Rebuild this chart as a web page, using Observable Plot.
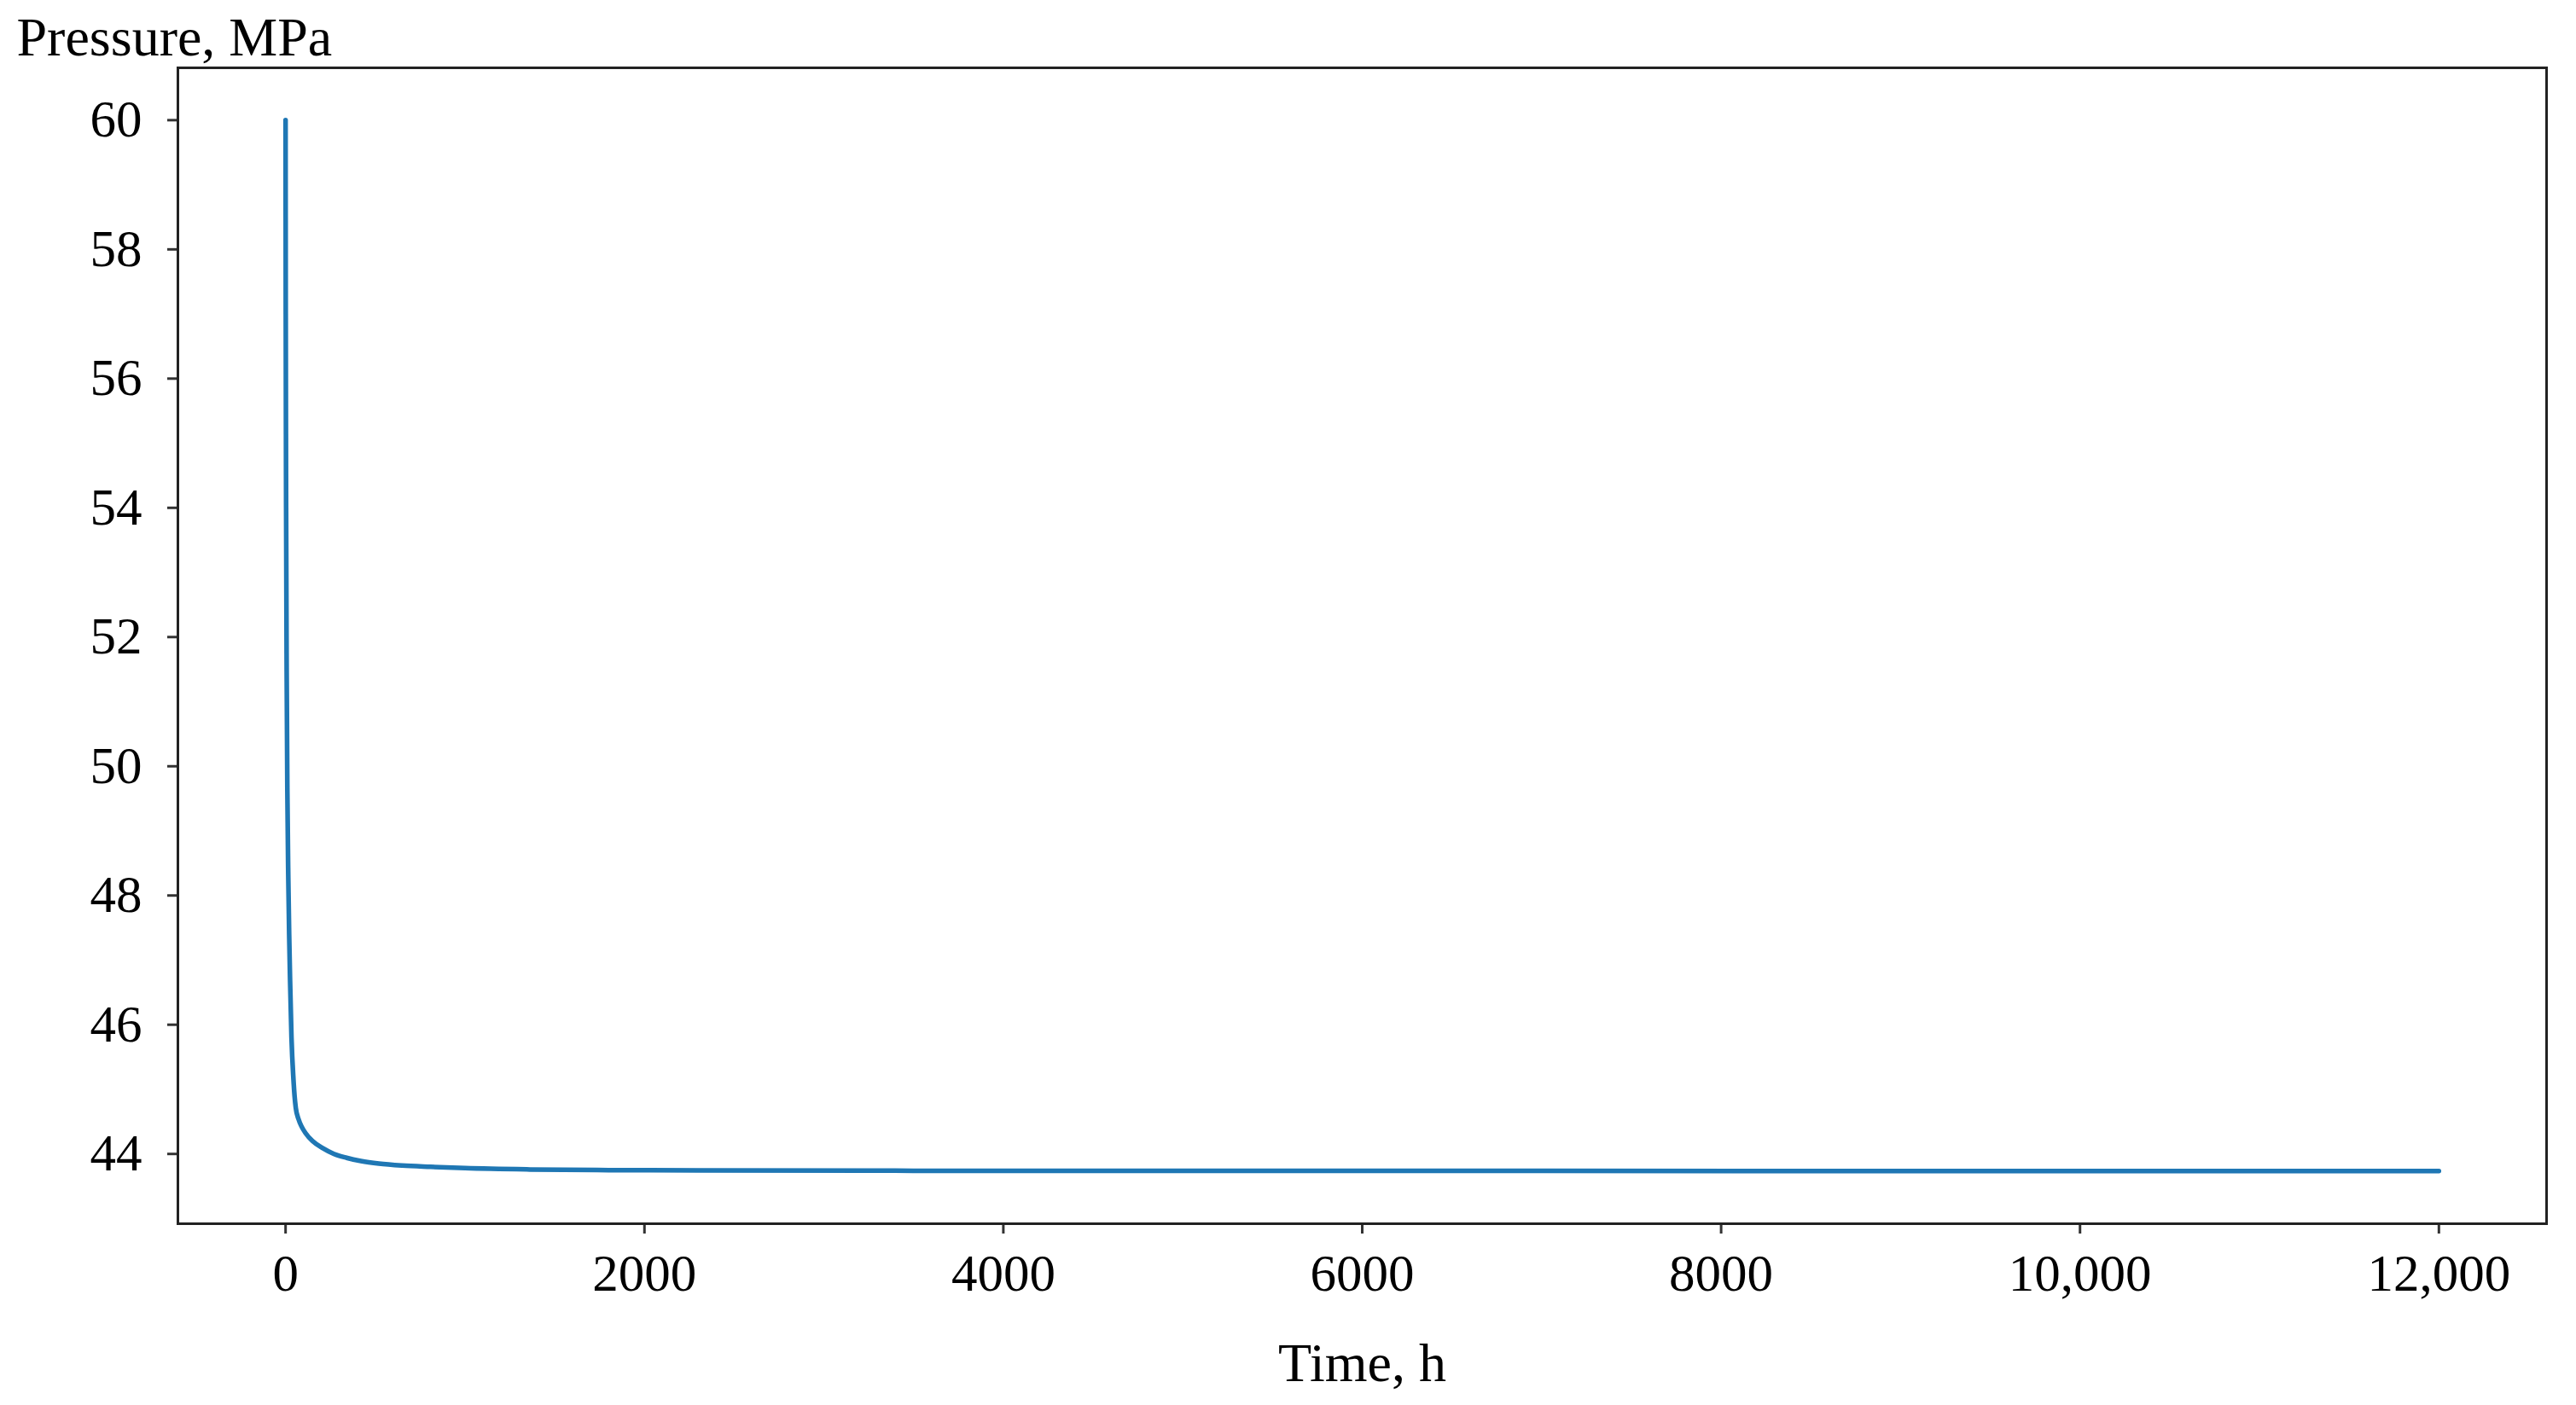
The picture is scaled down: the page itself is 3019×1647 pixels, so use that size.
<!DOCTYPE html>
<html><head><meta charset="utf-8">
<script src="https://cdn.jsdelivr.net/npm/d3@7"></script>
<script src="https://cdn.jsdelivr.net/npm/@observablehq/plot@0.6"></script>
<style>html,body{margin:0;padding:0;background:#fff;}</style>
</head><body><div id="chart"></div>
<script>
const timeH = [0, 1, 3, 6, 10, 15, 20, 25, 33, 44, 50, 57, 72, 90, 112, 150, 207, 270, 340, 420, 520, 650, 808, 1000, 1362, 1800, 2312, 3500, 5000, 7000, 9000, 12000];
const pressureMPa = [60, 57, 54, 51.5, 49.6, 48.3, 47.4, 46.7, 45.8, 45.15, 44.9, 44.71, 44.54, 44.42, 44.32, 44.2, 44.09, 44.0, 43.94, 43.89, 43.85, 43.82, 43.80, 43.78, 43.76, 43.75, 43.745, 43.74, 43.738, 43.737, 43.736, 43.735];
const xTicks = [0, 2000, 4000, 6000, 8000, 10000, 12000];
const yTicks = [44, 46, 48, 50, 52, 54, 56, 58, 60];
const yTitle = "Pressure, MPa";
const xTitle = "Time, h";

const data = timeH.map((t, i) => ({t, p: pressureMPa[i]}));

const chart = Plot.plot({
  width: 3019, height: 1647,
  marginLeft: 208, marginRight: 35, marginTop: 79, marginBottom: 213,
  style: {fontFamily: "'Liberation Serif', serif", fontSize: "61px", color: "#000", background: "#fff"},
  x: {domain: [-600, 12600], ticks: xTicks, tickSize: 12, tickPadding: 23,
      tickFormat: d => d >= 10000 ? d3.format(",")(d) : String(d), label: null},
  y: {domain: [42.92, 60.81], ticks: yTicks, tickSize: 12, tickPadding: 30, label: null},
  marks: [
    Plot.frame({stroke: "#222", strokeWidth: 3}),
    Plot.line(data, {x: "t", y: "p", stroke: "#1f77b4", strokeWidth: 5.5, curve: "monotone-x"}),
    Plot.text([yTitle], {frameAnchor: "top-left", lineAnchor: "middle", text: d => d, textAnchor: "start", dx: -189, dy: -35, fontSize: 64, fill: "#000"}),
    Plot.text([xTitle], {frameAnchor: "bottom", lineAnchor: "middle", text: d => d, dy: 164, fontSize: 64, fill: "#000"})
  ]
});
d3.select(chart).selectAll("g[aria-label='x-axis tick'] path, g[aria-label='y-axis tick'] path, g[aria-label='x-axis'] path, g[aria-label='y-axis'] path")
  .attr("stroke-width", 3).attr("stroke", "#333");
document.getElementById("chart").appendChild(chart);
</script>
</body></html>
